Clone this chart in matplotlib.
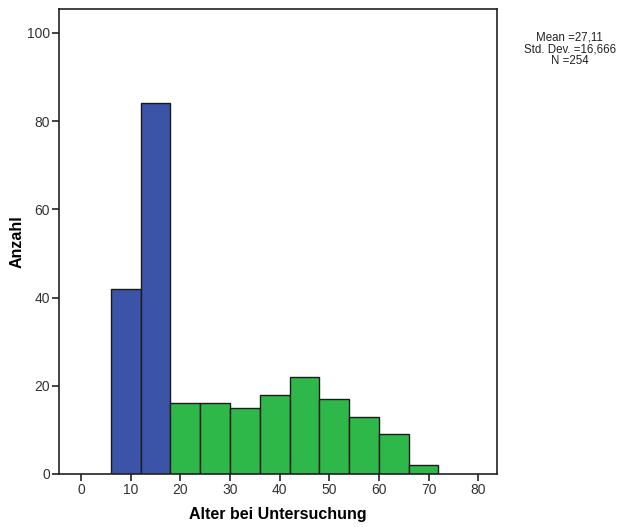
import matplotlib
matplotlib.use("Agg")
import matplotlib.pyplot as plt

# histogram bins (width 6) and counts
bin_edges = [6, 12, 18, 24, 30, 36, 42, 48, 54, 60, 66, 72]
counts = [42, 84, 16, 16, 15, 18, 22, 17, 13, 9, 2]
bar_colors = ["#3b54a8", "#3b54a8"] + ["#2eb84a"] * 9

x_ticks = [0, 10, 20, 30, 40, 50, 60, 70, 80]
y_ticks = [0, 20, 40, 60, 80, 100]
stats_text = "Mean =27,11\nStd. Dev. =16,666\nN =254"

plt.rcParams["font.family"] = ["Liberation Sans", "DejaVu Sans"]

fig = plt.figure(figsize=(6.24, 5.27), dpi=100)
ax = fig.add_axes([0.0946, 0.1006, 0.7019, 0.8824])

lefts = bin_edges[:-1]
widths = [b - a for a, b in zip(bin_edges[:-1], bin_edges[1:])]
ax.bar(lefts, counts, width=widths, align="edge", color=bar_colors,
       edgecolor="#1a1a1a", linewidth=1.0)

ax.set_xlim(-4.43, 83.8)
ax.set_ylim(0, 105.4)
ax.set_xticks(x_ticks)
ax.set_yticks(y_ticks)
ax.tick_params(direction="out", length=5, width=1.2, labelsize=10, pad=1.5,
               labelcolor="#333333", color="#222222")
for s in ax.spines.values():
    s.set_linewidth(1.2)
    s.set_color("#222222")

ax.set_xlabel("Alter bei Untersuchung", fontsize=11.5, fontweight="bold")
ax.xaxis.set_label_coords(0.5, -0.072)
ax.set_ylabel("Anzahl", fontsize=11.5, fontweight="bold")
ax.yaxis.set_label_coords(-0.078, 0.5)

fig.text(0.913, 0.94, stats_text, ha="center", va="top", fontsize=8.3,
         linespacing=0.95, color="#222222")

fig.savefig("out.png", dpi=100)
